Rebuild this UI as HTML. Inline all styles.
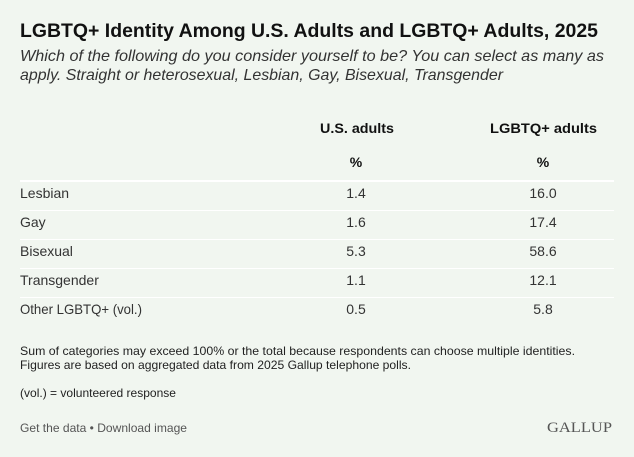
<!DOCTYPE html>
<html><head><meta charset="utf-8"><style>
html,body{margin:0;padding:0;background:#f1f6f0;}
svg{display:block}
text{font-family:"Liberation Sans",sans-serif;}
</style></head><body>
<svg width="634" height="457" viewBox="0 0 634 457" xmlns="http://www.w3.org/2000/svg">
<rect width="634" height="457" fill="#f1f6f0"/>
<text x="20" y="37" font-size="19" font-weight="bold" fill="#111" textLength="578" lengthAdjust="spacingAndGlyphs">LGBTQ+ Identity Among U.S. Adults and LGBTQ+ Adults, 2025</text>
<text x="20" y="61" font-size="16" font-style="italic" fill="#333" textLength="584" lengthAdjust="spacingAndGlyphs">Which of the following do you consider yourself to be? You can select as many as</text>
<text x="20" y="80" font-size="16" font-style="italic" fill="#333" textLength="483" lengthAdjust="spacingAndGlyphs">apply. Straight or heterosexual, Lesbian, Gay, Bisexual, Transgender</text>
<g font-size="14" font-weight="bold" fill="#111">
<text x="320" y="133" textLength="74" lengthAdjust="spacingAndGlyphs">U.S. adults</text>
<text x="490" y="133" textLength="107" lengthAdjust="spacingAndGlyphs">LGBTQ+ adults</text>
<text x="356" y="167" text-anchor="middle">%</text>
<text x="543" y="167" text-anchor="middle">%</text>
</g>
<rect x="20" y="180" width="594" height="2" fill="#fff"/>
<g fill="#fff">
<rect x="20" y="210" width="594" height="1"/>
<rect x="20" y="239" width="594" height="1"/>
<rect x="20" y="268" width="594" height="1"/>
<rect x="20" y="297" width="594" height="1"/>
</g>
<g font-size="14" fill="#333">
<text x="20" y="198">Lesbian</text>
<text x="20" y="227">Gay</text>
<text x="20" y="256">Bisexual</text>
<text x="20" y="285">Transgender</text>
<text x="20" y="314" textLength="122" lengthAdjust="spacingAndGlyphs">Other LGBTQ+ (vol.)</text>
</g>
<g font-size="14" fill="#333" text-anchor="middle">
<text x="356" y="198">1.4</text><text x="543" y="198">16.0</text>
<text x="356" y="227">1.6</text><text x="543" y="227">17.4</text>
<text x="356" y="256">5.3</text><text x="543" y="256">58.6</text>
<text x="356" y="285">1.1</text><text x="543" y="285">12.1</text>
<text x="356" y="314">0.5</text><text x="543" y="314">5.8</text>
</g>
<g font-size="12" fill="#222">
<text x="20" y="355" textLength="555" lengthAdjust="spacingAndGlyphs">Sum of categories may exceed 100% or the total because respondents can choose multiple identities.</text>
<text x="20" y="369" textLength="391" lengthAdjust="spacingAndGlyphs">Figures are based on aggregated data from 2025 Gallup telephone polls.</text>
<text x="20" y="397" textLength="156" lengthAdjust="spacingAndGlyphs">(vol.) = volunteered response</text>
</g>
<text x="20" y="432" font-size="12" fill="#555" textLength="167" lengthAdjust="spacingAndGlyphs">Get the data • Download image</text>
<text x="547" y="432" font-size="15" fill="#555" font-family="Liberation Serif,serif" style="font-family:'Liberation Serif',serif" textLength="65" lengthAdjust="spacingAndGlyphs">GALLUP</text>
</svg>
</body></html>
